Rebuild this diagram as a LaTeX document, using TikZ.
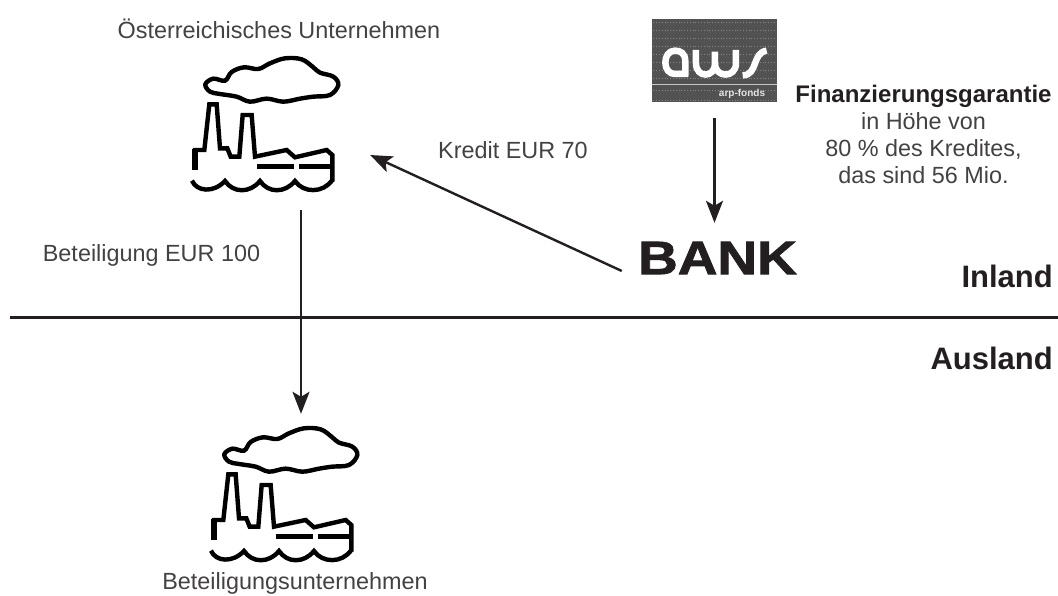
\documentclass[tikz,border=0pt]{standalone}
\usepackage{fontspec}
\setmainfont{Liberation Sans}
\newfontfamily\bankfont[FakeBold=1.5]{Liberation Sans Bold}
\usetikzlibrary{arrows.meta,positioning}
\definecolor{ink}{HTML}{231F20}
\tikzset{
  label/.style={text=ink!85,font=\fontsize{23.4}{27}\selectfont,inner sep=0pt},
  region/.style={text=ink,font=\bfseries\fontsize{31}{36}\selectfont,inner sep=0pt},
  flow/.style={draw=ink,line width=2.4pt,-{Stealth[length=22pt,width=17pt,inset=5pt]}},
  slot/.style={inner sep=0pt},
  pics/factory/.style={code={
    \begin{scope}[x=0.3333pt,y=-0.3333pt,draw=black,line width=4.4pt,line join=miter]
      \draw plot[smooth cycle,tension=0.6] coordinates {(106,103) (130,86) (165,92) (185,66) (222,52) (265,57) (300,40) (345,25) (395,28) (430,52) (450,68) (490,80) (505,105) (480,135) (430,140) (390,146) (340,155) (290,146) (240,155) (200,140) (150,132) (120,125)};
      \draw (75,360) -- (75,300) -- (103,300) -- (118,163) -- (140,163) -- (150,295) -- (172,295) -- (182,320) -- (208,320) -- (218,195) -- (245,195) -- (255,320) -- (350,300) -- (375,322) -- (470,300) -- (487,315) -- (487,395);
      \draw[line width=6pt] (75,360) -- (75,297);
      \draw (66,392) .. controls (80,425) and (130,430) .. (165,393)
        .. controls (190,430) and (240,430) .. (270,393)
        .. controls (295,430) and (345,430) .. (375,393)
        .. controls (400,430) and (460,430) .. (487,390);
      \draw (260,349) -- (372,349);
      \draw (388,349) -- (487,349);
    \end{scope}
  }}
}
\begin{document}
\begin{tikzpicture}[x=1pt,y=-1pt]
\useasboundingbox (0,0) rectangle (1058,596);
% factories
\pic at (170,50) {factory};
\pic at (189,420) {factory};
\node[slot,minimum width=138pt,minimum height=110pt] (unternehmen) at (301,155) {};
\node[slot,minimum width=138pt,minimum height=60pt] (beteiligung) at (301,444) {};
\node[label] (unternehmenlabel) at (279,29) {Österreichisches Unternehmen};
\node[label] (beteiligunglabel) at (295,583) {Beteiligungsunternehmen};
% logo
\node[slot,fill=black!68,minimum width=125pt,minimum height=83pt] (aws) at (714.5,60.5) {};
\begin{scope}[shift={(620,0)},x=0.3333pt,y=-0.3333pt]
  \foreach \row in {68,92,116,140,164,188,212,236,272,300}
    \draw[black!48,line width=0.7pt,dash pattern=on 0.8pt off 2pt] (100,\row) -- (468,\row);
  \draw[black!22,line width=1.2pt] (96,254) -- (470,254);
  \draw[white,line width=6.5pt] (196,226) -- (196,185) .. controls (196,158) and (180,152) .. (165,152) .. controls (145,152) and (136,170) .. (136,188) .. controls (136,208) and (148,222) .. (165,222) -- (205,222);
  \draw[white,line width=6.5pt] (228,150) -- (228,190) .. controls (228,235) and (285,235) .. (285,190) -- (285,155);
  \draw[white,line width=6.5pt] (285,190) .. controls (285,235) and (348,235) .. (348,190) -- (348,150);
  \draw[white,line width=6.5pt] (368,226) .. controls (415,226) and (395,158) .. (440,152);
\end{scope}
\node[inner sep=0pt,text=black!10,font=\bfseries\fontsize{10}{11}\selectfont] (arp) at (742,94) {arp-fonds};
% bank
\node[inner sep=0pt,minimum width=191pt,minimum height=34pt,text=ink] (bank) at (717.5,258) {\scalebox{1.17}[1]{\bankfont\fontsize{47}{47}\selectfont BANK}};
% labels
\node[label] (kredit) at (513,150) {Kredit EUR 70};
\node[label] (beteiligungeur) at (151.5,255) {Beteiligung EUR 100};
\node[label,align=center] (garantie) at (923.5,134.5) {{\bfseries\fontsize{24}{27}\selectfont\color{ink} Finanzierungsgarantie}\\in Höhe von\\80 \% des Kredites,\\das sind 56 Mio.};
\node[region,anchor=east] (inland) at (1053,276) {Inland};
\node[region,anchor=east] (ausland) at (1053,358) {Ausland};
% border
\coordinate (grenzelinks) at (10,317.5);
\coordinate (grenzerechts) at (1058,317.5);
\draw[ink,line width=2.4pt] (grenzelinks) -- (grenzerechts);
% arrows
\draw[flow] (unternehmen.south) -- (beteiligung.north);
\draw[flow] ([yshift=-13pt]bank.west) -- (unternehmen.east);
\draw[flow,shorten <=16pt,shorten >=18pt] (aws.south) -- (aws.south |- bank.north);
\end{tikzpicture}
\end{document}
